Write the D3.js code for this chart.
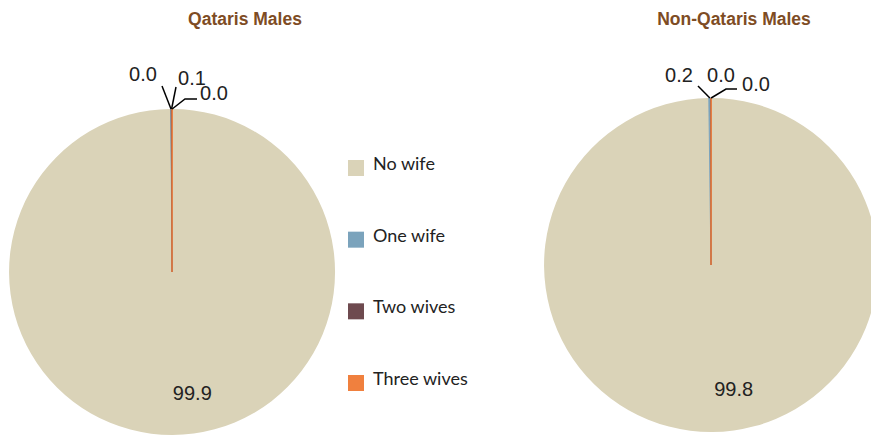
<!DOCTYPE html>
<html>
<head>
<meta charset="utf-8">
<script src="https://cdn.jsdelivr.net/npm/d3@7"></script>
<style>
  html, body { margin: 0; padding: 0; background: #fff; }
  svg { display: block; }
</style>
</head>
<body>
<svg id="chart" width="871" height="435"></svg>
<script>
// ---- data ----
const categories = ["No wife", "One wife", "Two wives", "Three wives"];
const qatarisMales = [99.86, 0.03, 0.08, 0.03];
const nonQatarisMales = [99.76, 0.2, 0.01, 0.03];
const titles = ["Qataris Males", "Non-Qataris Males"];
const colors = ["#DAD3B8", "#7BA3BC", "#6E4A4F", "#F0803E"];

// ---- layout ----
const svg = d3.select("#chart");
const color = d3.scaleOrdinal().domain(categories).range(colors);

const pies = [
  { values: qatarisMales, title: titles[0], cx: 172, cy: 272, r: 163, tx: 245, ty: 25,
    bigLabel: { dx: 20 },
    small: [
      { lx: -29, ly: -198, leader: [[-10, -186]] },
      { lx: 20, ly: -194, leader: [[4, -185]] },
      { lx: 42, ly: -179, leader: [[13, -173], [25, -173]] }
    ] },
  { values: nonQatarisMales, title: titles[1], cx: 711, cy: 265, r: 167, tx: 734, ty: 25,
    bigLabel: { dx: 22 },
    small: [
      { lx: -32, ly: -190, leader: [[-13, -179]] },
      { lx: 10, ly: -190, leader: [] },
      { lx: 45, ly: -181, leader: [[15, -176], [26, -176]] }
    ] }
];

pies.forEach(p => {
  const total = d3.sum(p.values);
  const rows = categories.map((c, i) => ({ cat: c, value: p.values[i] }));
  const s = 2 * Math.PI * (p.values[3] / total);
  const pie = d3.pie().sort(null).value(d => d.value).startAngle(s).endAngle(s + 2 * Math.PI);
  const arcs = pie(rows);
  const arc = d3.arc().innerRadius(0).outerRadius(p.r);

  const g = svg.append("g").attr("transform", `translate(${p.cx},${p.cy})`);

  // big slice first, then thin ones on top
  g.selectAll("path.slice")
    .data(arcs)
    .join("path")
    .attr("class", "slice")
    .attr("d", arc)
    .attr("fill", d => color(d.data.cat))
    .attr("stroke", d => color(d.data.cat))
    .attr("stroke-width", (d, i) => i === 0 ? 0 : 1);

  // big label
  const big = arcs[0];
  const mid = (big.startAngle + big.endAngle) / 2;
  const lr = p.r * 0.74;
  g.append("text")
    .attr("x", Math.sin(mid) * lr + p.bigLabel.dx)
    .attr("y", -Math.cos(mid) * lr)
    .attr("text-anchor", "middle")
    .attr("dominant-baseline", "central")
    .attr("font-family", "Liberation Sans, Arial, sans-serif")
    .attr("font-size", 20)
    .attr("fill", "#222")
    .text(big.data.value.toFixed(1));

  // small labels with leader lines
  arcs.slice(1).forEach((a, k) => {
    const cfg = p.small[k];
    const m = (a.startAngle + a.endAngle) / 2;
    const ax = Math.sin(m) * p.r, ay = -Math.cos(m) * p.r;
    if (cfg.leader.length) {
      const pts = [[ax, ay]].concat(cfg.leader);
      g.append("path")
        .attr("d", d3.line()(pts))
        .attr("fill", "none")
        .attr("stroke", "#000")
        .attr("stroke-width", 1.5);
    }
    g.append("text")
      .attr("x", cfg.lx)
      .attr("y", cfg.ly)
      .attr("text-anchor", "middle")
      .attr("dominant-baseline", "central")
      .attr("font-family", "Liberation Sans, Arial, sans-serif")
      .attr("font-size", 20)
      .attr("fill", "#222")
      .text(a.data.value.toFixed(1));
  });

  // title
  svg.append("text")
    .attr("x", p.tx)
    .attr("y", p.ty)
    .attr("text-anchor", "middle")
    .attr("font-family", "Liberation Sans, Arial, sans-serif")
    .attr("font-weight", "bold")
    .attr("font-size", 17.5)
    .attr("fill", "#7E4C24")
    .text(p.title);
});

// ---- legend ----
const legend = svg.append("g").attr("transform", "translate(348,160)");
const ly = d3.scalePoint().domain(categories).range([0, 215]);
const items = legend.selectAll("g.item")
  .data(categories)
  .join("g")
  .attr("class", "item")
  .attr("transform", d => `translate(0,${ly(d)})`);
items.append("rect")
  .attr("width", 16).attr("height", 16)
  .attr("fill", d => color(d));
items.append("text")
  .attr("x", 25).attr("y", 10)
  .attr("font-family", "Lato, 'Open Sans', sans-serif")
  .attr("font-size", 18)
  .attr("fill", "#222")
  .text(d => d);
</script>
</body>
</html>
